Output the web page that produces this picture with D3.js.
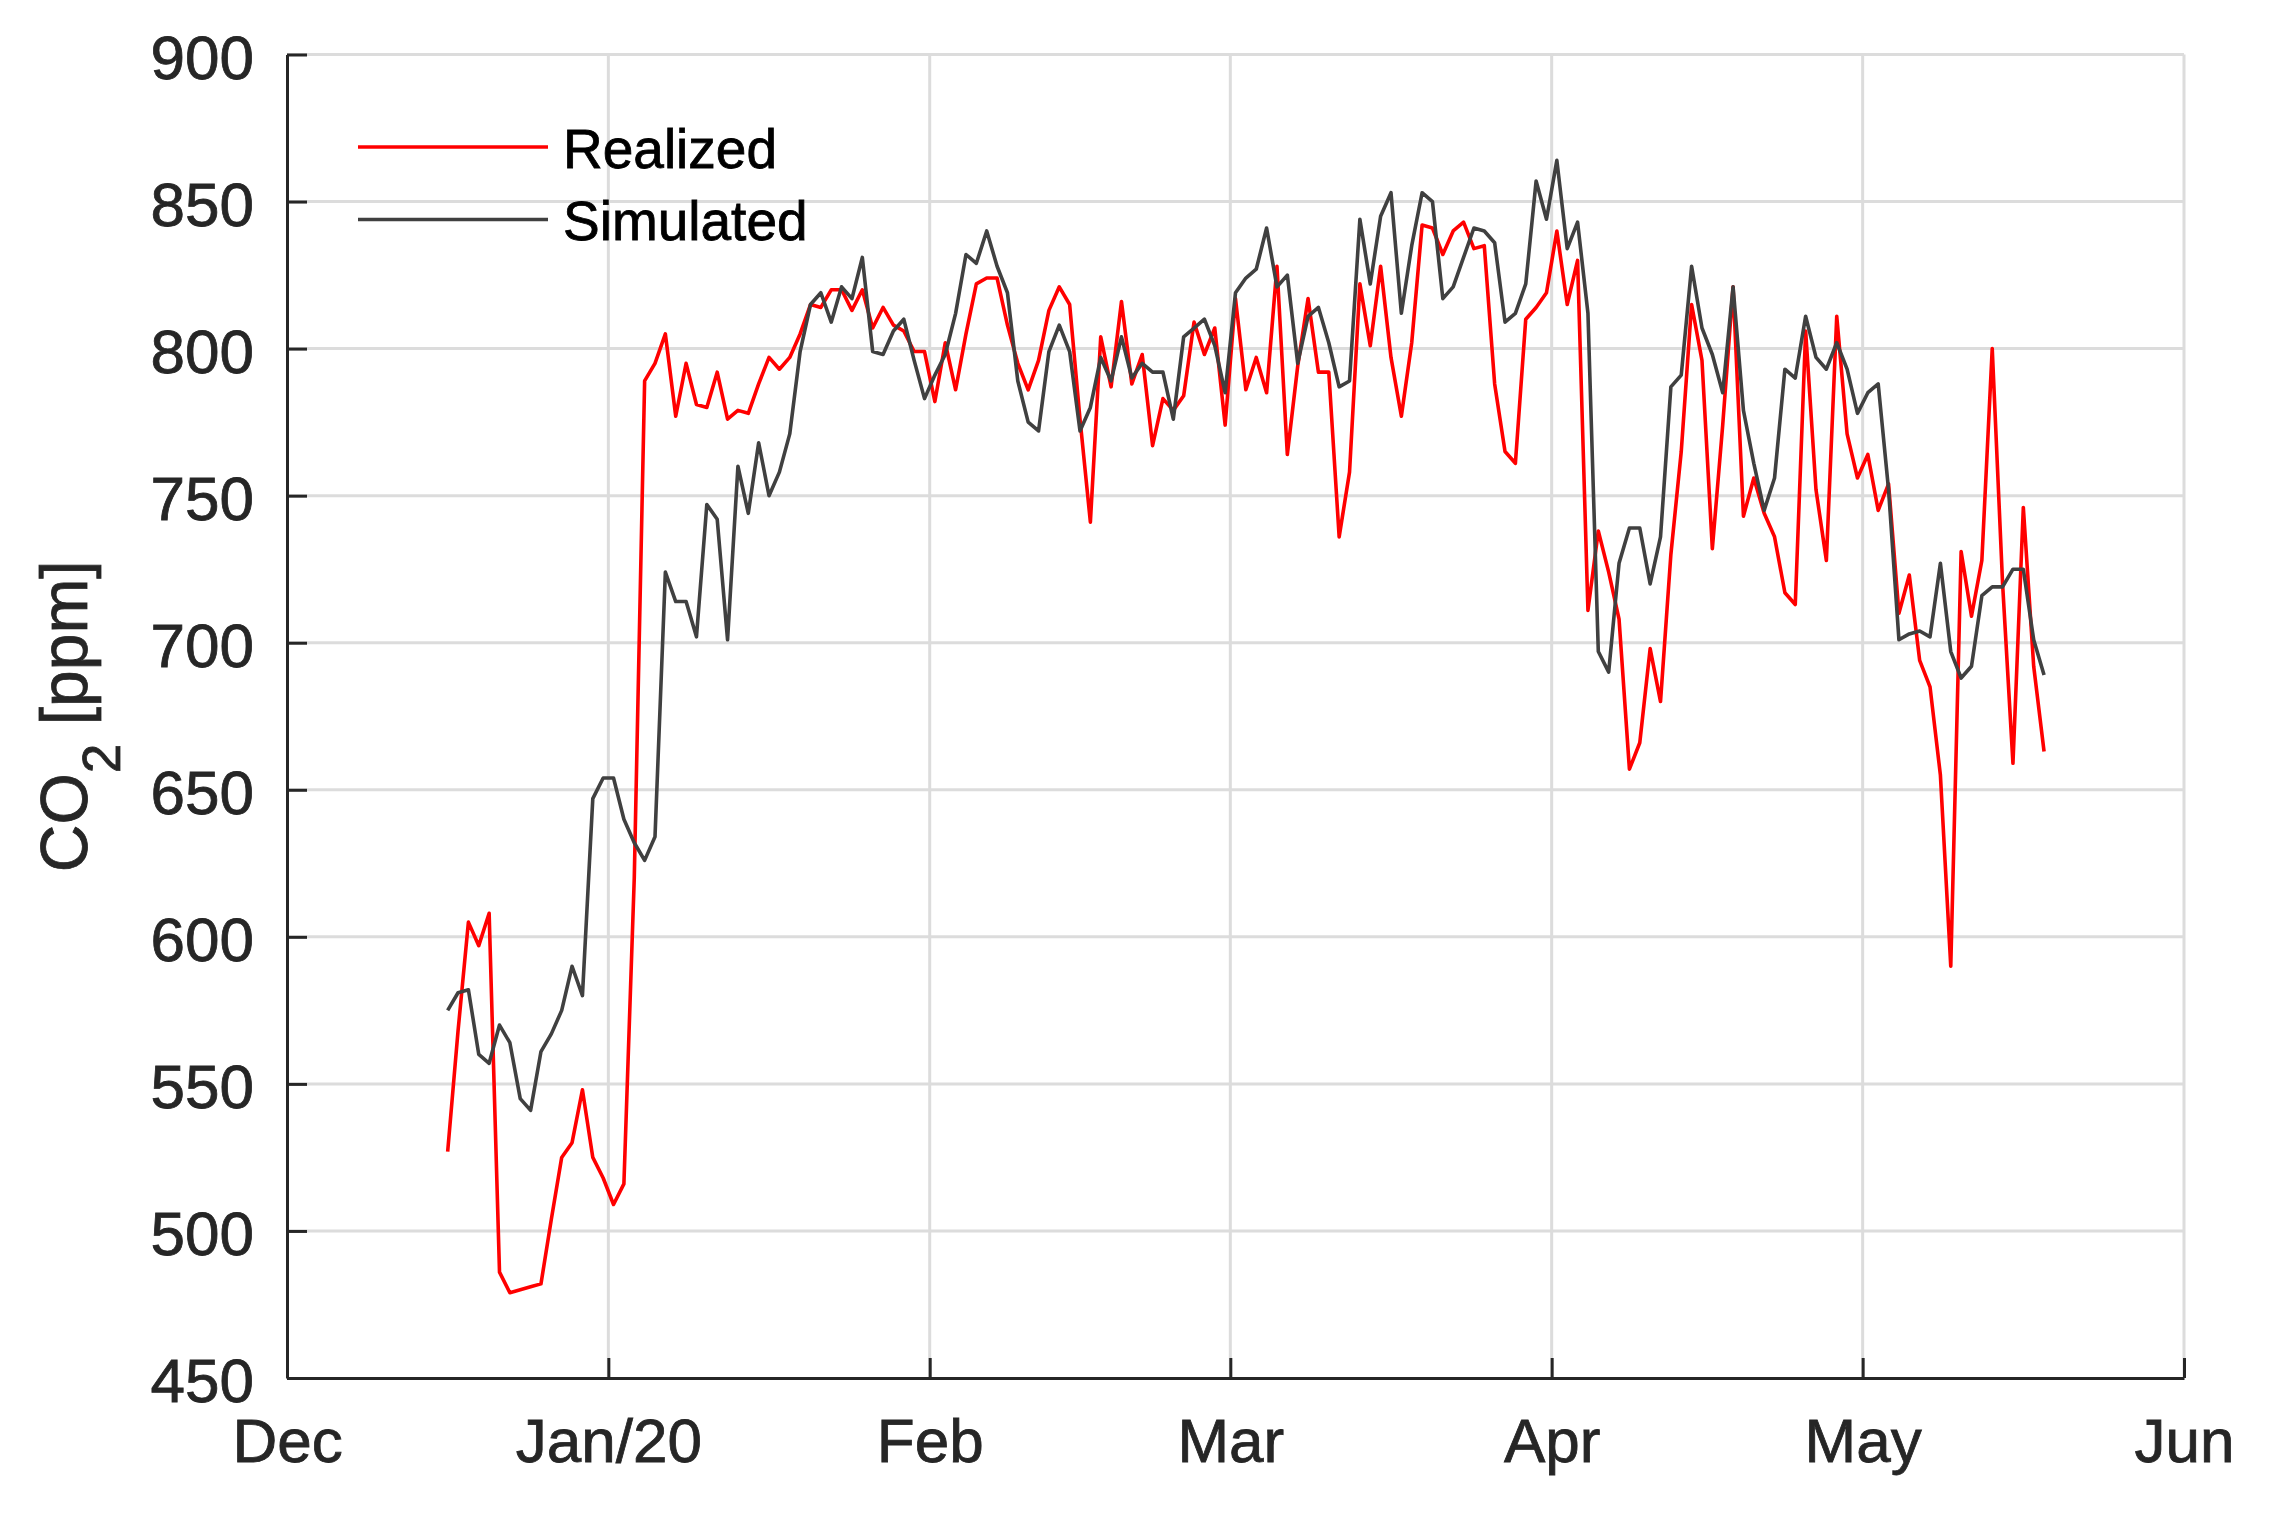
<!DOCTYPE html>
<html>
<head>
<meta charset="utf-8">
<script src="https://cdn.jsdelivr.net/npm/d3@7"></script>
<style>
  body { margin: 0; background: #fff; }
  text { font-family: "Liberation Sans", Arial, sans-serif; }
</style>
</head>
<body>
<div id="chart"></div>
<script>
// daily values, first day Dec 16 2019 (noon), last day May 18 2020
const START_DATE = new Date(2019, 11, 16, 12);

const realized = [
  527, 568, 605, 597, 608, 486, 479, 480, 481, 482,
  504, 525, 530, 548, 525, 518, 509, 516, 620, 789,
  795, 805, 777, 795, 781, 780, 792, 776, 779, 778,
  788, 797, 793, 797, 805, 815, 814, 820, 820, 813,
  820, 807, 814, 808, 806, 799, 799, 782, 802, 786,
  805, 822, 824, 824, 808, 795, 786, 796, 813, 821,
  815, 776, 741, 804, 787, 816, 788, 798, 767, 783,
  779, 784, 809, 798, 807, 774, 817, 786, 797, 785,
  828, 764, 794, 817, 792, 792, 736, 758, 822, 801,
  828, 797, 777, 802, 842, 841, 832, 840, 843, 834,
  835, 788, 765, 761, 810, 814, 819, 840, 815, 830,
  711, 738, 724, 708, 657, 666, 698, 680, 730, 765,
  815, 796, 732, 774, 821, 743, 756, 744, 736, 717,
  713, 806, 752, 728, 811, 771, 756, 764, 745, 754,
  710, 723, 694, 685, 655, 590, 731, 709, 728, 800,
  720, 659, 746, 692, 663
];

const simulated = [
  575, 581, 582, 560, 557, 570, 564, 545, 541, 561,
  567, 575, 590, 580, 647, 654, 654, 640, 632, 626,
  634, 724, 714, 714, 702, 747, 742, 701, 760, 744,
  768, 750, 758, 771, 799, 815, 819, 809, 821, 817,
  831, 799, 798, 806, 810, 796, 783, 791, 798, 812,
  832, 829, 840, 828, 819, 789, 775, 772, 799, 808,
  799, 772, 780, 797, 789, 804, 790, 795, 792, 792,
  776, 804, 807, 810, 801, 785, 819, 824, 827, 841,
  821, 825, 795, 811, 814, 802, 787, 789, 844, 822,
  845, 853, 812, 835, 853, 850, 817, 821, 831, 841,
  840, 836, 809, 812, 822, 857, 844, 864, 834, 843,
  812, 697, 690, 727, 739, 739, 720, 736, 787, 791,
  828, 807, 798, 785, 821, 779, 761, 745, 756, 793,
  790, 811, 797, 793, 802, 793, 778, 785, 788, 752,
  701, 703, 704, 702, 727, 697, 688, 692, 716, 719,
  719, 725, 725, 701, 689
];

const MONTH_TICKS = [
  new Date(2019, 11, 1), new Date(2020, 0, 1), new Date(2020, 1, 1),
  new Date(2020, 2, 1), new Date(2020, 3, 1), new Date(2020, 4, 1),
  new Date(2020, 5, 1)
];
const MONTH_LABELS = ["Dec", "Jan/20", "Feb", "Mar", "Apr", "May", "Jun"];
const Y_TICKS = [450, 500, 550, 600, 650, 700, 750, 800, 850, 900];

const SERIES = [
  { name: "Realized", values: realized, color: "#ff0000" },
  { name: "Simulated", values: simulated, color: "#404040" }
];

const W = 2274, H = 1525;
const margin = {top: 54.5, right: 90, bottom: 147, left: 287}
    , width = W - margin.left - margin.right
    , height = H - margin.top - margin.bottom;

const AXIS_COLOR = "#262626";
const GRID_COLOR = "#dcdcdc";

const x = d3.scaleTime()
    .domain([MONTH_TICKS[0], MONTH_TICKS[MONTH_TICKS.length - 1]])
    .range([0, width]);

const y = d3.scaleLinear()
    .domain([450, 900])
    .range([height, 0]);

const svg = d3.select("#chart").append("svg")
    .attr("width", W)
    .attr("height", H)
  .append("g")
    .attr("transform", `translate(${margin.left}, ${margin.top})`);

// grid
svg.append("g").selectAll("line.hgrid")
    .data(Y_TICKS.slice(1))
  .enter().append("line")
    .attr("x1", 0).attr("x2", width)
    .attr("y1", d => y(d)).attr("y2", d => y(d))
    .attr("stroke", GRID_COLOR)
    .attr("stroke-width", 3);

svg.append("g").selectAll("line.vgrid")
    .data(MONTH_TICKS.slice(1))
  .enter().append("line")
    .attr("x1", d => x(d)).attr("x2", d => x(d))
    .attr("y1", 0).attr("y2", height)
    .attr("stroke", GRID_COLOR)
    .attr("stroke-width", 3);

// axes
const xAxis = d3.axisBottom(x)
    .tickValues(MONTH_TICKS)
    .tickFormat((d, i) => MONTH_LABELS[i])
    .tickSizeInner(-20)
    .tickSizeOuter(0)
    .tickPadding(40);

const yAxis = d3.axisLeft(y)
    .tickValues(Y_TICKS)
    .tickSizeInner(-20)
    .tickSizeOuter(0)
    .tickPadding(33);

const gx = svg.append("g")
    .attr("transform", `translate(0, ${height})`)
    .call(xAxis);

const gy = svg.append("g")
    .call(yAxis);

[gx, gy].forEach(g => {
  g.select(".domain").attr("stroke", AXIS_COLOR).attr("stroke-width", 3);
  g.selectAll(".tick line").attr("stroke", AXIS_COLOR).attr("stroke-width", 3);
  g.selectAll(".tick text")
      .attr("fill", AXIS_COLOR)
      .attr("stroke", AXIS_COLOR)
      .attr("stroke-width", 0.8)
      .style("font-size", "62px")
      .style("font-family", "'Liberation Sans', Arial, sans-serif");
});
gy.selectAll(".tick text").attr("dy", "0.38em");

// y label
const ylab = svg.append("text")
    .attr("transform", `translate(${87 - margin.left}, ${height / 2}) rotate(-90)`)
    .attr("text-anchor", "middle")
    .attr("fill", AXIS_COLOR)
    .attr("stroke", AXIS_COLOR)
    .attr("stroke-width", 0.8)
    .style("font-size", "66px");
ylab.append("tspan").text("CO");
ylab.append("tspan").style("font-size", "53px").attr("dy", 33).text("2");
ylab.append("tspan").attr("dy", -33).text(" [ppm]");

// lines
const line = d3.line()
    .x((d, i) => x(d3.timeDay.offset(START_DATE, i)))
    .y(d => y(d));

svg.selectAll(".series")
    .data(SERIES)
  .enter().append("path")
    .attr("class", "series")
    .attr("d", d => line(d.values))
    .attr("fill", "none")
    .attr("stroke", d => d.color)
    .attr("stroke-width", 3.6)
    .attr("stroke-linejoin", "round");

// legend
const legend = svg.selectAll(".legend")
    .data(SERIES)
  .enter().append("g")
    .attr("class", "legend")
    .attr("transform", (d, i) => `translate(${358 - margin.left}, ${147 - margin.top + i * 72.5})`);

legend.append("line")
    .attr("x1", 0).attr("x2", 190)
    .attr("stroke", d => d.color)
    .attr("stroke-width", 3.6);

legend.append("text")
    .attr("x", 205)
    .attr("y", 20.5)
    .attr("fill", "#000")
    .attr("stroke", "#000")
    .attr("stroke-width", 0.8)
    .style("font-size", "55px")
    .text(d => d.name);
</script>
</body>
</html>
